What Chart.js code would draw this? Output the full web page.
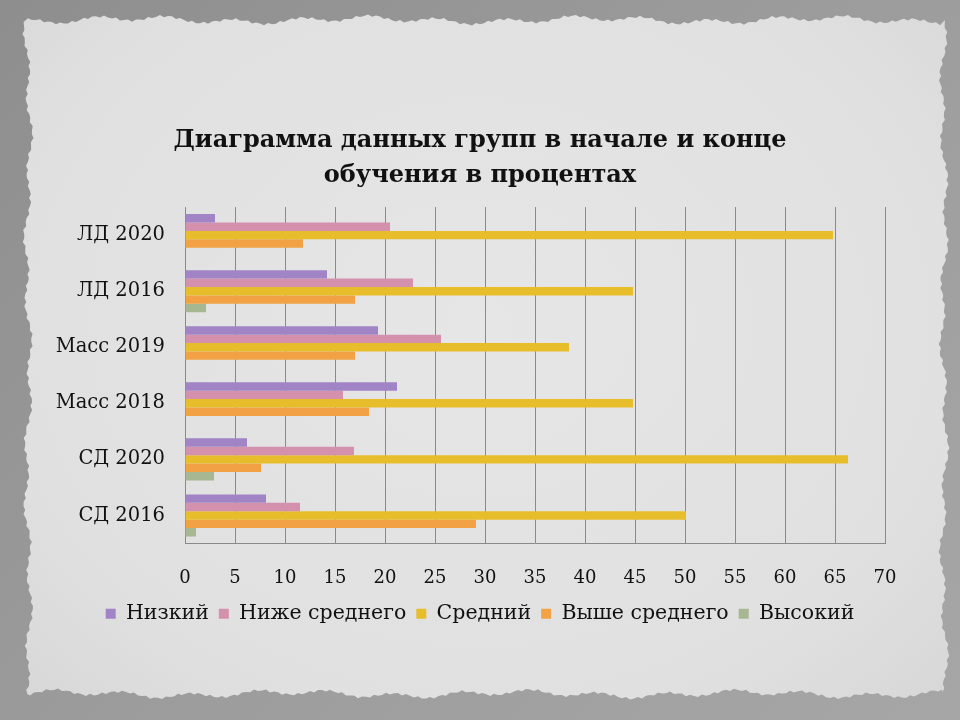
<!DOCTYPE html>
<html>
<head>
<title>Диаграмма данных групп</title>
<script src="https://cdn.jsdelivr.net/npm/chart.js"></script>
<style>
  html, body { margin: 0; padding: 0; }
  body {
    width: 960px; height: 720px; overflow: hidden; position: relative;
    background: linear-gradient(135deg, #8e8e8e 0%, #9c9c9c 50%, #a6a6a6 100%);
  }
  #paper {
    position: absolute; left: 0; top: 0; width: 960px; height: 720px;
    background: radial-gradient(ellipse at 50% 45%, #e6e6e6 0%, #e0e0e0 70%, #d6d6d6 100%);
  }
  #wrap { position: absolute; left: 0; top: 0; width: 960px; height: 720px; }
</style>
</head>
<body>
<div id="paper"></div>
<div id="wrap"><canvas id="chart" width="960" height="720"></canvas></div>

<script>
const categories = ['ЛД 2020', 'ЛД 2016', 'Масс 2019', 'Масс 2018', 'СД 2020', 'СД 2016'];
const seriesNames = ['Низкий', 'Ниже среднего', 'Средний', 'Выше среднего', 'Высокий'];
const low       = [3.0, 14.2, 19.3, 21.2, 6.2, 8.1];
const belowMid  = [20.5, 22.8, 25.6, 15.8, 16.9, 11.5];
const middle    = [64.8, 44.8, 38.4, 44.8, 66.3, 50.1];
const aboveMid  = [11.8, 17.0, 17.0, 18.4, 7.6, 29.1];
const high      = [0, 2.1, 0, 0, 2.9, 1.1];
const xTicks    = [0, 5, 10, 15, 20, 25, 30, 35, 40, 45, 50, 55, 60, 65, 70];
const colors = ['#a084c6', '#d491ad', '#e8bd2c', '#f2a244', '#a6b792'];

// torn paper edge (decorative only)
(function () {
  const pts = [];
  const jag = (i, k) => Math.sin(i * 2.3 + k) * 1.2 + Math.sin(i * 0.37 + k * 2) * 2.5 + Math.sin(i * 0.11 + k) * 2;
  for (let x = 28; x <= 942; x += 4) pts.push([x, 20 + jag(x / 4, 1)]);
  for (let y = 20; y <= 694; y += 4) pts.push([944 + jag(y / 4, 2), y]);
  for (let x = 942; x >= 28; x -= 4) pts.push([x, 694 + jag(x / 4, 3)]);
  for (let y = 694; y >= 20; y -= 4) pts.push([28 + jag(y / 4, 4), y]);
  document.getElementById('paper').style.clipPath =
    'polygon(' + pts.map(p => p[0].toFixed(1) + 'px ' + p[1].toFixed(1) + 'px').join(',') + ')';
})();

const seriesData = [low, belowMid, middle, aboveMid, high];
const serif = "'DejaVu Serif', 'Liberation Serif', serif";

new Chart(document.getElementById('chart'), {
  type: 'bar',
  data: {
    labels: categories,
    datasets: seriesNames.map((name, i) => ({
      label: name,
      data: seriesData[i],
      backgroundColor: colors[i],
      borderWidth: 0,
      barPercentage: 1,
      categoryPercentage: 0.75
    }))
  },
  options: {
    indexAxis: 'y',
    responsive: false,
    animation: false,
    layout: { padding: { top: 123, bottom: 86, left: 0, right: 0 } },
    plugins: {
      title: {
        display: true,
        text: ['Диаграмма данных групп в начале и конце', 'обучения в процентах'],
        color: '#111',
        font: { family: serif, size: 24, weight: 'bold', lineHeight: 1.46 },
        padding: { top: 0, bottom: 14 }
      },
      legend: {
        position: 'bottom',
        labels: {
          color: '#111',
          font: { family: serif, size: 20.5 },
          boxWidth: 10, boxHeight: 10,
          padding: 10
        }
      },
      tooltip: { enabled: false }
    },
    scales: {
      x: {
        min: 0, max: 70,
        afterBuildTicks: s => { s.ticks = xTicks.map(v => ({ value: v })); },
        afterFit: s => { s.height = 50; },
        ticks: { color: '#111', font: { family: serif, size: 18 }, padding: 24, maxRotation: 0, autoSkip: false },
        grid: { color: '#8a8a8a', lineWidth: 1, drawTicks: false },
        border: { color: '#8a8a8a' }
      },
      y: {
        afterFit: s => { s.width = 185; },
        ticks: { color: '#111', font: { family: serif, size: 19.5 }, padding: 20 },
        grid: { display: false, drawTicks: false },
        border: { display: false }
      },
      // empty right-hand spacer so the plot ends at 70 like the original
      yRight: {
        type: 'category',
        axis: 'y',
        position: 'right',
        afterFit: s => { s.width = 75; },
        ticks: { display: false },
        grid: { display: false, drawTicks: false },
        border: { display: false }
      }
    }
  }
});
</script>
</body>
</html>
